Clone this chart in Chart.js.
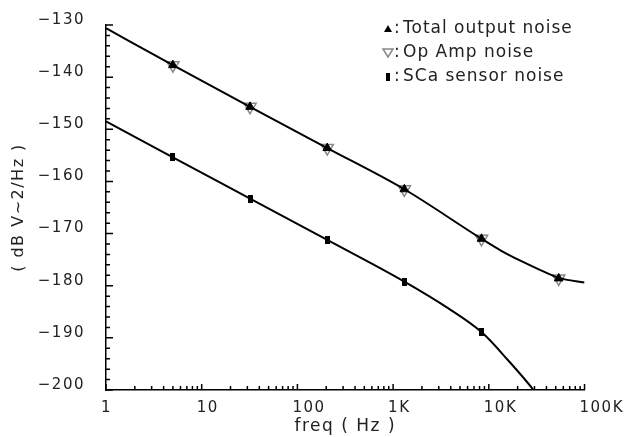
<!DOCTYPE html>
<html>
<head>
<meta charset="utf-8">
<script src="https://cdn.jsdelivr.net/npm/chart.js@4.4.1/dist/chart.umd.min.js"></script>
<style>
  html, body { margin: 0; padding: 0; background: #fff; }
  #wrap { width: 624px; height: 437px; }
</style>
</head>
<body>
<div id="wrap"><canvas id="noise"></canvas></div>
<script>
// values: freq in Hz, noise in dB V~2/Hz
const totalFreq = [1, 5, 32, 205, 1310, 8390, 13500, 21900, 35500, 53700, 100000];
const totalNoise = [-130.6, -137.7, -145.7, -153.6, -161.5, -171.0, -173.3, -175.3, -177.1, -178.5, -179.4];

const sensorFreq = [1, 5, 32, 205, 1310, 3750, 8390, 15900, 29300, 40000];
const sensorNoise = [-148.5, -155.4, -163.3, -171.2, -179.2, -184.3, -188.9, -194.3, -200, -203.5];

// marker positions
const markFreq = [5, 32, 205, 1310, 8390, 53700];
const totalMarks = [-137.7, -145.7, -153.6, -161.5, -171.0, -178.6];
const opAmpMarks = [-137.7, -145.7, -153.6, -161.5, -171.0, -178.6];
const sensorMarkFreq = [5, 32, 205, 1310, 8390];
const sensorMarks = [-155.4, -163.3, -171.2, -179.2, -188.9];

// axis ticks
const decades = [1, 10, 100, 1000, 10000, 100000];
const decadeLabels = ["1", "10", "100", "1K", "10K", "100K"];

const toXY = (xs, ys) => xs.map((x, i) => ({ x: x, y: ys[i] }));

// small upright bar for the sensor markers
const barMark = document.createElement("canvas");
barMark.width = 5;
barMark.height = 8;
barMark.getContext("2d").fillRect(0, 0, 5, 8);

const xTickValues = [];
decades.forEach((d) => {
  for (let k = 1; k < 10; k++) {
    if (d * k <= 100000) xTickValues.push(d * k);
  }
});

const spacing = {
  id: "spacing",
  beforeDraw(chart) {
    chart.ctx.letterSpacing = "1.5px";
  },
};

// ticks drawn inward from the axis lines
const inwardTicks = {
  id: "inwardTicks",
  afterDraw(chart) {
    const { ctx, chartArea: a, scales } = chart;
    ctx.save();
    ctx.strokeStyle = "#000";
    ctx.lineWidth = 1.5;
    ctx.beginPath();
    scales.x.ticks.forEach((t) => {
      const px = scales.x.getPixelForValue(t.value);
      const len = decades.includes(t.value) ? 6 : 4;
      ctx.moveTo(px, a.bottom);
      ctx.lineTo(px, a.bottom - len);
    });
    scales.y.ticks.forEach((t) => {
      const py = scales.y.getPixelForValue(t.value);
      const len = t.value % 10 === 0 ? 7 : 4;
      ctx.moveTo(a.left, py);
      ctx.lineTo(a.left + len, py);
    });
    ctx.stroke();
    ctx.restore();
  },
};

// legend in the top right corner
const cornerLegend = {
  id: "cornerLegend",
  afterDraw(chart) {
    const ctx = chart.ctx;
    const x0 = 388;
    const rows = [29, 53, 77];
    ctx.save();
    ctx.letterSpacing = "1px";
    ctx.font = "17px 'DejaVu Sans'";
    ctx.fillStyle = "#222";
    ctx.textBaseline = "middle";
    const labels = ["Total output noise", "Op Amp noise", "SCa sensor noise"];
    labels.forEach((txt, i) => {
      ctx.fillText(":", x0 + 6, rows[i]);
      ctx.fillText(txt, x0 + 15, rows[i]);
    });
    // markers
    ctx.fillStyle = "#000";
    ctx.beginPath();
    ctx.moveTo(x0 - 4, rows[0] + 3);
    ctx.lineTo(x0 + 4, rows[0] + 3);
    ctx.lineTo(x0, rows[0] - 4);
    ctx.closePath();
    ctx.fill();
    ctx.strokeStyle = "#888";
    ctx.lineWidth = 1.5;
    ctx.beginPath();
    ctx.moveTo(x0 - 5, rows[1] - 4);
    ctx.lineTo(x0 + 5, rows[1] - 4);
    ctx.lineTo(x0, rows[1] + 4);
    ctx.closePath();
    ctx.stroke();
    ctx.fillRect(x0 - 2, rows[2] - 4, 4, 8);
    ctx.restore();
  },
};

const fontTick = { family: "'DejaVu Sans'", size: 15 };

new Chart(document.getElementById("noise"), {
  type: "line",
  data: {
    datasets: [
      {
        label: "Total output noise",
        data: toXY(markFreq, totalMarks),
        showLine: false,
        pointStyle: "triangle",
        pointRadius: 5,
        backgroundColor: "#000",
        borderColor: "#000",
        borderWidth: 1,
        order: 0,
      },
      {
        label: "Op Amp noise",
        data: toXY(markFreq, opAmpMarks),
        showLine: false,
        pointStyle: "triangle",
        rotation: 180,
        pointRadius: 7,
        backgroundColor: "rgba(0,0,0,0)",
        borderColor: "#888",
        borderWidth: 1.5,
        order: 2,
      },
      {
        label: "SCa sensor noise",
        data: toXY(sensorMarkFreq, sensorMarks),
        showLine: false,
        pointStyle: barMark,
        order: 0,
      },
      {
        label: "total curve",
        data: toXY(totalFreq, totalNoise),
        borderColor: "#000",
        borderWidth: 2,
        pointRadius: 0,
        cubicInterpolationMode: "monotone",
        order: 1,
      },
      {
        label: "sensor curve",
        data: toXY(sensorFreq, sensorNoise),
        borderColor: "#000",
        borderWidth: 2,
        pointRadius: 0,
        cubicInterpolationMode: "monotone",
        order: 1,
      },
    ],
  },
  options: {
    responsive: true,
    maintainAspectRatio: false,
    animation: false,
    events: [],
    layout: { padding: { top: 25, right: 36, left: 0, bottom: 0 } },
    plugins: {
      legend: { display: false },
      tooltip: { enabled: false },
    },
    scales: {
      x: {
        type: "logarithmic",
        min: 1,
        max: 100000,
        afterBuildTicks: (scale) => {
          scale.ticks = xTickValues.map((v) => ({ value: v }));
        },
        afterFit: (scale) => {
          scale.height = 47;
        },
        grid: { display: false },
        border: { display: true, color: "#000", width: 1.5 },
        ticks: {
          autoSkip: false,
          maxRotation: 0,
          align: "start",
          labelOffset: -5,
          padding: 1,
          color: "#222",
          font: fontTick,
          callback: (v) => {
            const i = decades.indexOf(v);
            return i >= 0 ? decadeLabels[i] : "";
          },
        },
        title: {
          display: true,
          text: "freq ( Hz )",
          color: "#222",
          font: { family: "'DejaVu Sans'", size: 17 },
          padding: { top: 0, bottom: 0 },
        },
      },
      y: {
        min: -200,
        max: -130,
        afterFit: (scale) => {
          scale.width = 106;
          scale.paddingTop = 0;
          scale.paddingBottom = 0;
        },
        grid: { display: false },
        border: { display: true, color: "#000", width: 1.5 },
        ticks: {
          stepSize: 2,
          autoSkip: false,
          padding: 13,
          labelOffset: -5,
          color: "#222",
          font: fontTick,
          callback: (v) => (v % 10 === 0 ? "\u2212" + Math.abs(v) : ""),
        },
        title: {
          display: true,
          text: "( dB V~2/Hz )",
          color: "#222",
          font: { family: "'DejaVu Sans'", size: 16 },
          padding: { top: 9, bottom: 0 },
        },
      },
    },
  },
  plugins: [spacing, inwardTicks, cornerLegend],
});
</script>
</body>
</html>
